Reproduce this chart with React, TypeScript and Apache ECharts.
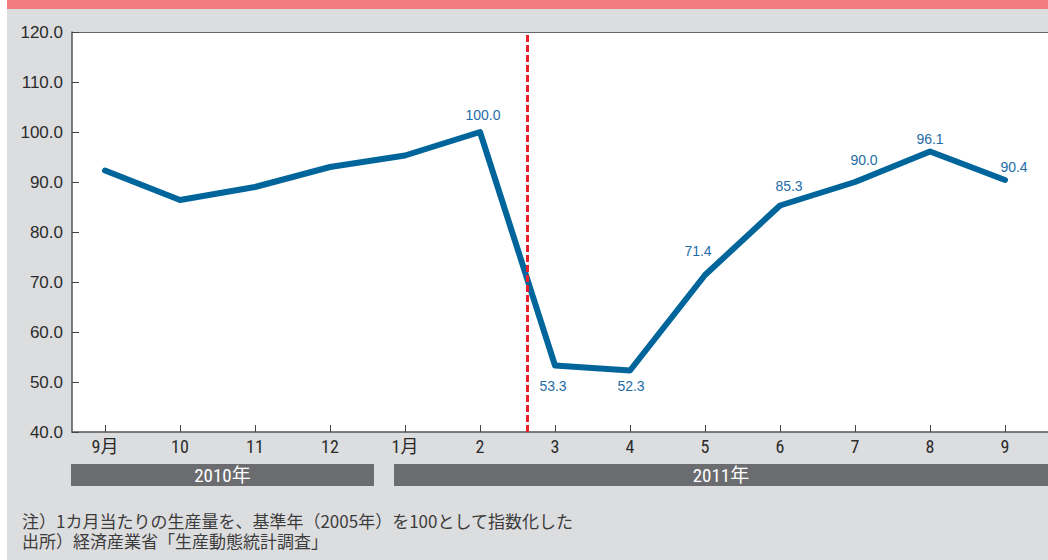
import React, { useEffect, useRef } from "react";
import * as echarts from "echarts";

// Monthly production index (2005 = 100), Sep 2010 – Sep 2011
const months = ["9月", "10", "11", "12", "1月", "2", "3", "4", "5", "6", "7", "8", "9"];
const values = [92.3, 86.4, 89.0, 93.0, 95.3, 100.0, 53.3, 52.3, 71.4, 85.3, 90.0, 96.1, 90.4];
// which points carry a value label, and where the label sits relative to the point
const labelOffsets: (number[] | null)[] = [
  null, null, null, null, null,
  [3, -17], [-2, 20], [1, 15], [-7, -24], [9, -20], [9, -22], [0, -13], [9, -13],
];
const yTicks = [40, 50, 60, 70, 80, 90, 100, 110, 120];
const quakeIndex = 5.631; // 11 March 2011
const yearBands = [
  { label: "2010年", x0: 71, x1: 374 },
  { label: "2011年", x0: 394, x1: 1048 },
];
const notes = [
  "注）1カ月当たりの生産量を、基準年（2005年）を100として指数化した",
  "出所）経済産業省「生産動態統計調査」",
];

const NARROW = '"Liberation Sans Narrow", "Roboto Condensed", "DejaVu Sans Condensed", "Noto Sans CJK JP", sans-serif';
const SANS = '"Liberation Sans", Arial, "Noto Sans CJK JP", sans-serif';

export default function App() {
  const ref = useRef<HTMLDivElement>(null);

  useEffect(() => {
    if (!ref.current) return;
    const chart = echarts.init(ref.current, null, { renderer: "svg" });

    const labelData = values
      .map((v, i) => ({ v, i, off: labelOffsets[i] }))
      .filter((d) => d.off)
      .map((d) => ({
        value: [d.i, d.v],
        label: { offset: d.off },
      }));

    const graphics: any[] = [
      { type: "rect", z: -10, shape: { x: 7, y: 0, width: 1041, height: 9 }, style: { fill: "#f27b7f" } },
      { type: "rect", z: -10, shape: { x: 7, y: 9, width: 1041, height: 551 }, style: { fill: "#dcdddf" } },
    ];
    yearBands.forEach((b) => {
      graphics.push({
        type: "rect",
        shape: { x: b.x0, y: 464, width: b.x1 - b.x0, height: 22 },
        style: { fill: "#6b6c70" },
      });
      graphics.push({
        type: "text",
        x: (b.x0 + b.x1) / 2,
        y: 475,
        style: {
          text: b.label,
          fill: "#ffffff",
          font: `19px ${NARROW}`,
          textAlign: "center",
          textVerticalAlign: "middle",
        },
      });
    });
    // footnotes, two lines of one text block
    graphics.push({
      type: "text",
      x: 22,
      y: 511,
      style: {
        text: notes.join("\n"),
        fill: "#3c3c3c",
        font: `17px "Noto Sans CJK JP", sans-serif`,
        lineHeight: 19.5,
        textAlign: "left",
        textVerticalAlign: "top",
      },
    });

    chart.setOption({
      animation: false,
      grid: {
        left: 72,
        top: 32,
        right: 0,
        bottom: 128,
        show: true,
        backgroundColor: "#ffffff",
        borderWidth: 0,
      },
      graphic: graphics,
      xAxis: [
        {
          type: "value",
          min: -0.44,
          max: 12.573,
          splitLine: { show: false },
          axisLine: { show: true, onZero: false, lineStyle: { color: "#555", width: 1.5 } },
          axisTick: {
            show: true,
            inside: true,
            length: 7,
            customValues: months.map((_, i) => i),
            lineStyle: { color: "#444", width: 1 },
          },
          axisLabel: {
            show: true,
            customValues: months.map((_, i) => i),
            formatter: (v: number) => months[Math.round(v)],
            margin: 5,
            color: "#2b2b2b",
            fontSize: 18,
            fontFamily: NARROW,
          },
        },
        {
          type: "value",
          position: "top",
          min: -0.44,
          max: 12.573,
          splitLine: { show: false },
          axisLine: { show: true, onZero: false, lineStyle: { color: "#666", width: 1 } },
          axisTick: { show: false },
          axisLabel: { show: false },
        },
      ],
      yAxis: {
        type: "value",
        min: yTicks[0],
        max: yTicks[yTicks.length - 1],
        interval: 10,
        splitLine: { show: false },
        axisLine: { show: true, onZero: false, lineStyle: { color: "#555", width: 1.5 } },
        axisTick: { show: true, inside: true, length: 7, lineStyle: { color: "#444", width: 1 } },
        axisLabel: {
          formatter: (v: number) => v.toFixed(1),
          margin: 9,
          color: "#2b2b2b",
          fontSize: 17,
          fontFamily: SANS,
        },
      },
      series: [
        {
          type: "line",
          data: values.map((v, i) => [i, v]),
          showSymbol: false,
          lineStyle: { color: "#00659a", width: 6, cap: "round", join: "round" },
          itemStyle: { color: "#00659a" },
          emphasis: { disabled: true },
          markLine: {
            silent: true,
            symbol: "none",
            label: { show: false },
            lineStyle: { color: "#e8202a", type: [7, 3], width: 3 },
            data: [{ xAxis: quakeIndex }],
          },
          z: 3,
        },
        {
          // value labels for the 2011 points
          type: "scatter",
          data: labelData,
          symbolSize: 1,
          itemStyle: { color: "rgba(0,0,0,0)", opacity: 1 },
          silent: true,
          label: {
            show: true,
            position: "inside",
            formatter: (p: any) => p.value[1].toFixed(1),
            color: "#1f6ca6",
            fontSize: 14,
            fontFamily: SANS,
          },
          z: 4,
        },
      ],
    });

    return () => chart.dispose();
  }, []);

  return (
    <div
      ref={ref}
      style={{ position: "absolute", left: 0, top: 0, width: 1048, height: 560 }}
    />
  );
}
